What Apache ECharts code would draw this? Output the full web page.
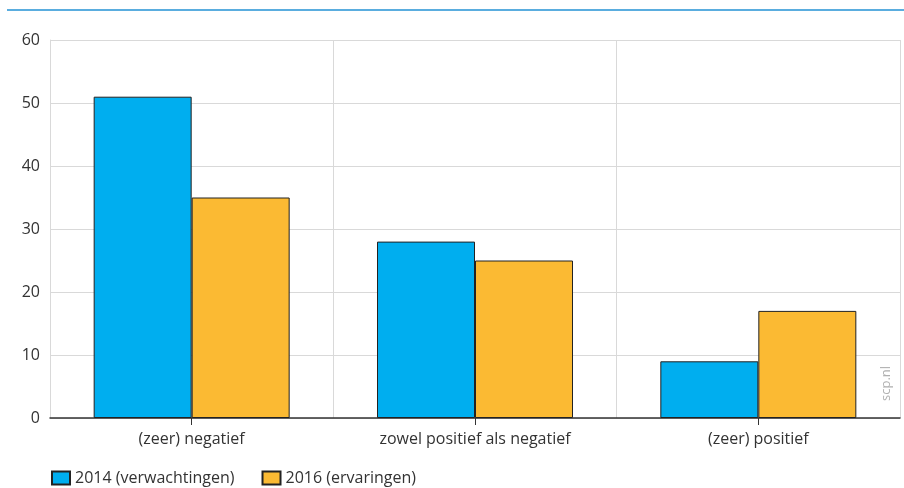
<!DOCTYPE html>
<html><head><meta charset="utf-8">
<script src="https://cdn.jsdelivr.net/npm/echarts@6/dist/echarts.min.js"></script>
<style>html,body{margin:0;padding:0;background:#fff}#c{width:904px;height:488px}</style>
</head><body><div id="c"></div>
<script>
const categories = ['(zeer) negatief', 'zowel positief als negatief', '(zeer) positief'];
const series2014 = [51, 28, 9];
const series2016 = [35, 25, 17];
const seriesNames = ['2014 (verwachtingen)', '2016 (ervaringen)'];
const yTicks = [0, 10, 20, 30, 40, 50, 60];

const font = 'Open Sans';
const chart = echarts.init(document.getElementById('c'));
chart.setOption({
  animation: false,
  textStyle: {fontFamily: font},
  grid: {left: 50, right: 4, top: 40, bottom: 70, containLabel: false},
  legend: {
    left: 46, top: 465, itemWidth: 18, itemHeight: 13, itemGap: 27,
    icon: 'rect',
    textStyle: {fontFamily: font, fontSize: 16, color: '#333'},
    data: seriesNames
  },
  xAxis: {
    type: 'category', data: categories,
    axisLine: {lineStyle: {color: '#333', width: 1.5}},
    axisTick: {show: true, alignWithLabel: true, length: 7, lineStyle: {color: '#333'}},
    axisLabel: {fontSize: 16, color: '#333', margin: 13, fontFamily: font},
    splitLine: {show: true, lineStyle: {color: '#d9d9d9', width: 1}}
  },
  yAxis: {
    type: 'value', min: yTicks[0], max: yTicks[yTicks.length - 1], interval: 10,
    axisLine: {show: true, lineStyle: {color: '#d9d9d9'}},
    axisTick: {show: false},
    axisLabel: {fontSize: 16, color: '#333', margin: 10, fontFamily: font},
    splitLine: {lineStyle: {color: '#d9d9d9', width: 1}}
  },
  series: [
    {name: seriesNames[0], type: 'bar', data: series2014, barWidth: 98, barGap: '0%',
     itemStyle: {color: '#00AEEF', borderColor: '#222', borderWidth: 1}},
    {name: seriesNames[1], type: 'bar', data: series2016, barWidth: 98,
     itemStyle: {color: '#FBBA33', borderColor: '#222', borderWidth: 1}}
  ],
  graphic: [
    {type: 'rect', shape: {x: 7, y: 9, width: 897, height: 2}, style: {fill: '#5AADDF'}},
    {type: 'text', x: 886, y: 401, rotation: Math.PI / 2,
     style: {text: 'scp.nl', fill: '#b0b0b0', font: '13px "Open Sans"', align: 'left', verticalAlign: 'middle'}}
  ]
});
</script></body></html>
